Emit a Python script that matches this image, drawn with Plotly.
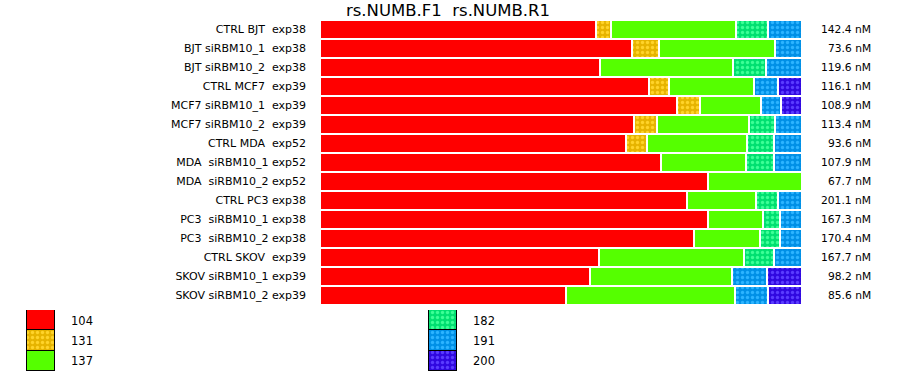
import plotly.graph_objects as go

NB = "\u00a0"
samples = [
    "CTRL BJT" + NB + " exp38",
    "BJT siRBM10_1" + NB + " exp38",
    "BJT siRBM10_2" + NB + " exp38",
    "CTRL MCF7" + NB + " exp39",
    "MCF7 siRBM10_1" + NB + " exp39",
    "MCF7 siRBM10_2" + NB + " exp39",
    "CTRL MDA" + NB + " exp52",
    "MDA" + NB + " siRBM10_1 exp52",
    "MDA" + NB + " siRBM10_2 exp52",
    "CTRL PC3 exp38",
    "PC3" + NB + " siRBM10_1 exp38",
    "PC3" + NB + " siRBM10_2 exp38",
    "CTRL SKOV" + NB + " exp39",
    "SKOV siRBM10_1 exp39",
    "SKOV siRBM10_2 exp39",
]
concentrations = ["142.4 nM", "73.6 nM", "119.6 nM", "116.1 nM", "108.9 nM", "113.4 nM",
                  "93.6 nM", "107.9 nM", "67.7 nM", "201.1 nM", "167.3 nM", "170.4 nM",
                  "167.7 nM", "98.2 nM", "85.6 nM"]

categories = ["104", "131", "137", "182", "191", "200"]
v104 = [57.3, 64.8, 58.1, 68.3, 74.1, 65.2, 63.5, 70.8, 80.6, 76.2, 80.6, 77.7, 57.9, 56.0, 51.0]
v131 = [3.1, 5.6, None, 4.2, 4.8, 4.8, 4.4, None, None, None, None, None, None, None, None]
v137 = [26.0, 23.9, 27.7, 17.7, 12.7, 19.1, 20.6, 17.5, 19.4, 14.3, 11.4, 13.7, 29.9, 29.5, 35.1]
v182 = [6.7, None, 6.9, None, None, 5.2, 5.6, 5.8, None, 4.6, 3.5, 4.2, 6.2, None, None]
v191 = [7.0, 5.7, 7.4, 5.0, 4.2, 5.7, 5.9, 5.9, None, 4.9, 4.5, 4.5, 5.9, 7.3, 6.9]
v200 = [None, None, None, 4.9, 4.3, None, None, None, None, None, None, None, None, 7.2, 7.0]
series = [v104, v131, v137, v182, v191, v200]

bg_colors = ["#FF0000", "#E6B400", "#55FF00", "#00E070", "#0090E6", "#3008E0"]
fg_colors = [None, "#FFD42A", None, "#3CFF96", "#2CB4FF", "#5A3CFF"]

# legend layout (columns / rows)
legend_col = [0, 0, 0, 1, 1, 1]
legend_x_px = [41, 443]
legend_text_px = [69, 471]
legend_rows_px = [321, 341, 361]

W, H = 900, 375
FONT = "DejaVu Sans"

def marker_for(i, line_color, line_width):
    m = dict(color=bg_colors[i], line=dict(color=line_color, width=line_width))
    if fg_colors[i]:
        m["pattern"] = dict(shape=".", fgcolor=fg_colors[i], bgcolor=bg_colors[i],
                            size=5, solidity=0.35, fillmode="replace")
    return m

fig = go.Figure()
for i, cat in enumerate(categories):
    fig.add_trace(go.Bar(
        y=samples, x=series[i], orientation="h", name=cat, width=1.0,
        marker=marker_for(i, "white", 2), showlegend=False, hoverinfo="x+y+name",
        xaxis="x", yaxis="y",
    ))

# legend swatches as stacked bars on a separate axis
for i, cat in enumerate(categories):
    fig.add_trace(go.Bar(
        x=[legend_x_px[legend_col[i]]], y=[1], width=28, name=cat,
        marker=marker_for(i, "black", 1), showlegend=False, hoverinfo="name",
        xaxis="x2", yaxis="y2",
    ))

annotations = []
for s, c in zip(samples, concentrations):
    annotations.append(dict(text=c, x=873 / W, xref="paper", y=s, yref="y",
                            xanchor="right", yanchor="middle", showarrow=False,
                            font=dict(family=FONT, size=10.7, color="#000")))
for i, cat in enumerate(categories):
    row = i % 3
    annotations.append(dict(text=cat, x=legend_text_px[legend_col[i]] / W, xref="paper",
                            y=1 - legend_rows_px[row] / H, yref="paper",
                            xanchor="left", yanchor="middle", showarrow=False,
                            font=dict(family=FONT, size=11.5, color="#000")))

fig.update_layout(
    width=W, height=H,
    margin=dict(l=0, r=0, t=0, b=0),
    paper_bgcolor="white", plot_bgcolor="white",
    barmode="stack", barnorm="percent", bargap=0,
    title=dict(text="rs.NUMB.F1  rs.NUMB.R1".replace("  ", NB + " "), x=448 / W,
               xanchor="center", y=1 - 10 / H, yanchor="middle",
               font=dict(family=FONT, size=16.5, color="#000")),
    xaxis=dict(domain=[320 / W, 802 / W], range=[0, 100], visible=False, fixedrange=True),
    yaxis=dict(domain=[1 - 305 / H, 1 - 20 / H], autorange="reversed", type="category",
               showgrid=False, zeroline=False, showline=False, ticks="",
               ticklabelstandoff=13,
               tickfont=dict(family=FONT, size=11, color="#000")),
    xaxis2=dict(domain=[0, 1], range=[0, W], visible=False, anchor="y2"),
    yaxis2=dict(domain=[1 - 371 / H, 1 - 310 / H], range=[100, 0], visible=False, anchor="x2"),
    annotations=annotations,
    font=dict(family=FONT),
)

fig.write_html("out.html")
